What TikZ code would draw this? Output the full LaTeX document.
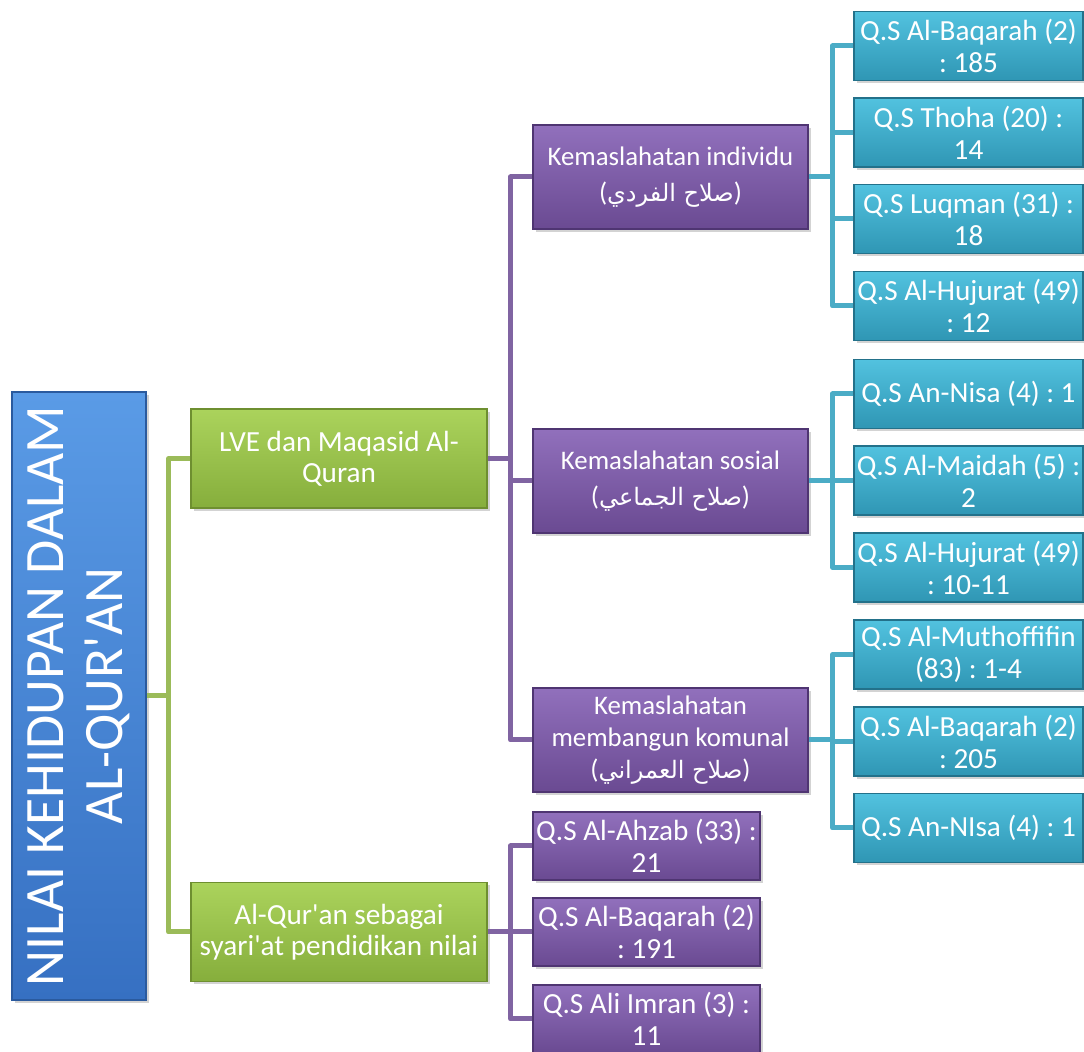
\documentclass[tikz,border=0pt]{standalone}
\usepackage{fontspec}
\setmainfont{Carlito}
\newfontfamily\arabicfont[Script=Arabic]{DejaVu Sans}
\TeXXeTstate=1
\frenchspacing
\usetikzlibrary{shadows}
\newcommand{\apos}{\textquotesingle}
\newcommand{\arab}[1]{\beginR{\arabicfont\fontsize{12}{17}\selectfont #1}\endR}
\definecolor{roottop}{HTML}{5A9BE6}
\definecolor{rootbot}{HTML}{3670C2}
\definecolor{rootdraw}{HTML}{2A5A9E}
\definecolor{greentop}{HTML}{ABD35C}
\definecolor{greenbot}{HTML}{86AE3C}
\definecolor{greendraw}{HTML}{6E8F30}
\definecolor{purpletop}{HTML}{9170BC}
\definecolor{purplebot}{HTML}{6A4A92}
\definecolor{purpledraw}{HTML}{4F3572}
\definecolor{cyantop}{HTML}{52C2DF}
\definecolor{cyanbot}{HTML}{2F96B4}
\definecolor{cyandraw}{HTML}{23718A}
\definecolor{greenln}{HTML}{9BBB59}
\definecolor{purpleln}{HTML}{8064A2}
\definecolor{cyanln}{HTML}{4BACC6}
\tikzstyle{box}=[rectangle,line width=0.6pt,text=white,align=center,inner sep=1pt,
  drop shadow={shadow xshift=1.5pt,shadow yshift=-1.5pt,opacity=0.35}]
\tikzstyle{rootbox}=[box,draw=rootdraw,top color=roottop,bottom color=rootbot,rotate=90,
  minimum width=304pt,minimum height=67pt,font=\fontsize{27.8}{29.5}\selectfont]
\tikzstyle{greenbox}=[box,draw=greendraw,top color=greentop,bottom color=greenbot,
  minimum width=148pt,minimum height=49.5pt,font=\fontsize{14.6}{15.5}\selectfont]
\tikzstyle{purplebox}=[box,draw=purpledraw,top color=purpletop,bottom color=purplebot,
  minimum width=137.5pt,minimum height=52pt,font=\fontsize{13.4}{16}\selectfont]
\tikzstyle{versebox}=[box,draw=purpledraw,top color=purpletop,bottom color=purplebot,
  minimum width=113.5pt,minimum height=34pt,font=\fontsize{14.6}{16}\selectfont]
\tikzstyle{cyanbox}=[box,draw=cyandraw,top color=cyantop,bottom color=cyanbot,
  minimum width=114.5pt,minimum height=34.5pt,font=\fontsize{14.6}{16}\selectfont]
\tikzstyle{greenline}=[draw=greenln,line width=2.5pt,line join=round]
\tikzstyle{purpleline}=[draw=purpleln,line width=2.5pt,line join=round]
\tikzstyle{cyanline}=[draw=cyanln,line width=2.5pt,line join=round]

\begin{document}
\begin{tikzpicture}[x=0.5pt,y=-0.5pt]
  \useasboundingbox (0,0) rectangle (1084,1052);
  % root and second level
  \node[rootbox] (root) at (79,696) {NILAI KEHIDUPAN DALAM\\AL-QUR\apos AN};
  \node[greenbox] (lve) at (339,458.5) {LVE dan Maqasid Al-\\Quran};
  \node[greenbox] (syr) at (339,932) {Al-Qur\apos an sebagai\\syari\apos at pendidikan nilai};
  % kemaslahatan
  \node[purplebox] (ind) at (670.5,177) {Kemaslahatan individu\\[2pt](\arab{صلاح الفردي})};
  \node[purplebox] (sos) at (670.5,481) {Kemaslahatan sosial\\[2pt](\arab{صلاح الجماعي})};
  \node[purplebox] (kom) at (670.5,740) {Kemaslahatan\\membangun komunal\\(\arab{صلاح العمراني})};
  % verses
  \foreach \n/\y/\txt in {q1/846/{Q.S Al-Ahzab (33) :\\21},
      q2/932/{Q.S Al-Baqarah (2)\\: 191},
      q3/1019/{Q.S Ali Imran (3) :\\11}}
    \node[versebox] (\n) at (646.5,\y) {\txt};
  \foreach \n/\y/\txt in {c1/46/{Q.S Al-Baqarah (2)\\: 185},
      c2/132.5/{Q.S Thoha (20) :\\14},
      c3/219/{Q.S Luqman (31) :\\18},
      c4/306/{Q.S Al-Hujurat (49)\\: 12},
      c5/394/{Q.S An-Nisa (4) : 1},
      c6/480.5/{Q.S Al-Maidah (5) :\\2},
      c7/567.5/{Q.S Al-Hujurat (49)\\: 10-11},
      c8/654.5/{Q.S Al-Muthoffifin\\(83) : 1-4},
      c9/741.5/{Q.S Al-Baqarah (2)\\: 205},
      c10/828/{Q.S An-NIsa (4) : 1}}
    \node[cyanbox] (\n) at (968.5,\y) {\txt};
  % connectors
  \draw[greenline] (root.south) -- ++(22,0) coordinate (jr);
  \draw[greenline] (lve.west) -| (jr) |- (syr.west);
  \draw[purpleline] (lve.east) -- ++(23,0) coordinate (jl);
  \draw[purpleline] (ind.west) -| (jl) |- (kom.west);
  \draw[purpleline] (jl) |- (sos.west);
  \draw[purpleline] (syr.east) -- ++(23,0) coordinate (js);
  \draw[purpleline] (q1.west) -| (js) |- (q3.west);
  \draw[purpleline] (js) -- (q2.west);
  \draw[cyanline] (ind.east) -- ++(24,0) coordinate (ji);
  \draw[cyanline] (c1.west) -| (ji) |- (c4.west);
  \foreach \c in {c2,c3}
    \draw[cyanline] (ji) |- (\c.west);
  \draw[cyanline] (sos.east) -- ++(24,0) coordinate (jo);
  \draw[cyanline] (c5.west) -| (jo) |- (c7.west);
  \draw[cyanline] (jo) |- (c6.west);
  \draw[cyanline] (kom.east) -- ++(24,0) coordinate (jk);
  \draw[cyanline] (c8.west) -| (jk) |- (c10.west);
  \draw[cyanline] (jk) |- (c9.west);
\end{tikzpicture}
\end{document}
